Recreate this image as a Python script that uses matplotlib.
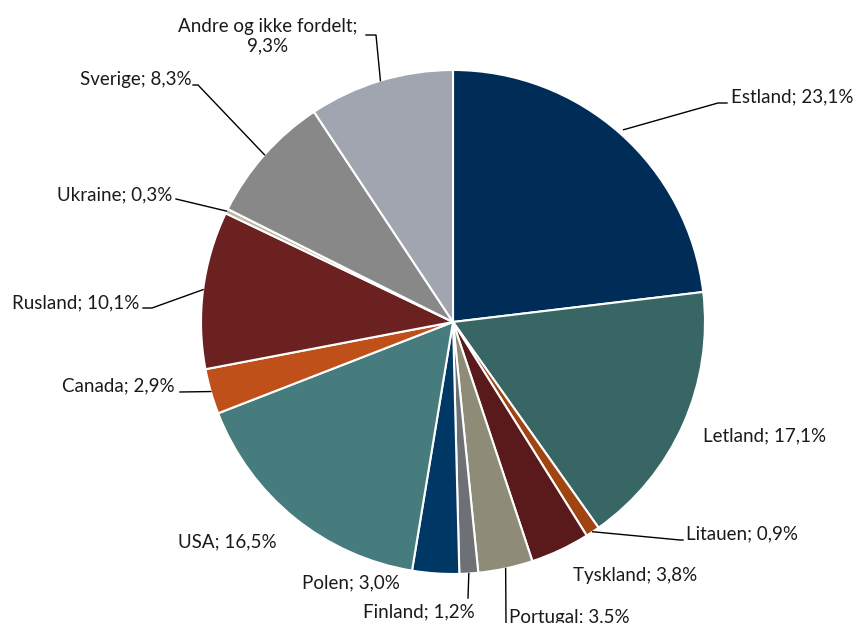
import numpy as np
import matplotlib.pyplot as plt

# data (percent shares, clockwise from 12 o'clock)
countries = ["Estland", "Letland", "Litauen", "Tyskland", "Portugal", "Finland",
             "Polen", "USA", "Canada", "Rusland", "Ukraine", "Sverige",
             "Andre og ikke fordelt"]
shares = [23.1, 17.1, 0.9, 3.8, 3.5, 1.2, 3.0, 16.5, 2.9, 10.1, 0.3, 8.3, 9.3]
colors = ["#002D58", "#386665", "#A04512", "#5A1A1B", "#8E8B76", "#6D7075",
          "#003865", "#467C7E", "#C05019", "#6C2121", "#BDB6A2", "#888888",
          "#A0A5B0"]
explode = [0.02] + [0] * 12

W, H = 856, 623
cx, cy, R = 453, H - 322, 252

plt.rcParams['font.family'] = ['Lato', 'DejaVu Sans']

fig = plt.figure(figsize=(W / 100, H / 100), dpi=100)
ax = fig.add_axes([0, 0, 1, 1])

wedges, _ = ax.pie(shares, colors=colors, startangle=90, counterclock=False,
                   explode=explode, center=(cx, cy), radius=R,
                   wedgeprops=dict(edgecolor='white', linewidth=1.5))
ax.set_xlim(0, W)
ax.set_ylim(0, H)
ax.set_aspect('equal')
ax.axis('off')

# label layout: (text x px, text y px, ha, leader elbow points in px or None)
layout = {
    "Estland": (731, 97, 'left', [(718, 103), (727, 103)]),
    "Letland": (703, 436, 'left', None),
    "Litauen": (686, 534, 'left', [(680, 540), (683, 540)]),
    "Tyskland": (573, 576, 'left', None),
    "Portugal": (509, 617, 'left', [(506, 623)]),
    "Finland": (475, 612, 'right', [(468, 598)]),
    "Polen": (400, 583, 'right', None),
    "USA": (277, 542, 'right', None),
    "Canada": (175, 386, 'right', [(180, 392)]),
    "Rusland": (139, 303, 'right', [(152, 308), (143, 308)]),
    "Ukraine": (172, 195, 'right', [(176, 199)]),
    "Sverige": (192, 80, 'right', [(198, 85), (193, 85)]),
    "Andre og ikke fordelt": (268, 36, 'center', [(376, 35), (366, 35)]),
}

cum = np.cumsum([0] + shares[:-1])
for name, val, start, w in zip(countries, shares, cum, wedges):
    tx, ty, ha, leader = layout[name]
    pct = ("%.1f" % val).replace('.', ',') + "%"
    if name == "Andre og ikke fordelt":
        txt = name + ";\n" + pct
    else:
        txt = name + "; " + pct
    ax.text(tx, H - ty, txt, ha=ha, va='center', fontsize=13.5,
            color='#1a1a1a', linespacing=1.15, multialignment='center')
    if leader:
        ang = np.deg2rad((start + val / 2) / 100 * 360)
        off = explode[countries.index(name)] * R
        px = cx + (R + off) * np.sin(ang)
        py = cy + (R + off) * np.cos(ang)
        xs = [px] + [p[0] for p in leader]
        ys = [py] + [H - p[1] for p in leader]
        ax.plot(xs, ys, color='black', lw=1.0)

fig.savefig("out.png", dpi=100)
